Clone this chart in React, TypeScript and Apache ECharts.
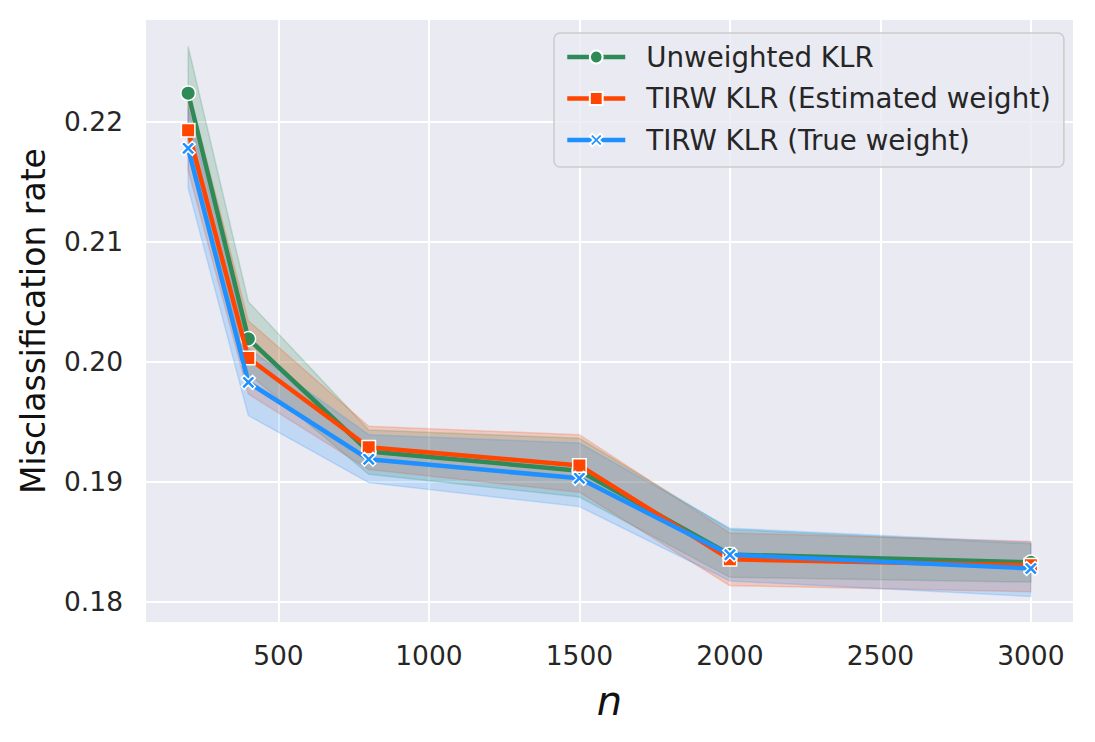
import React, { useEffect, useRef } from "react";
import * as echarts from "echarts";

const nValues = [200, 400, 800, 1500, 2000, 3000];

const seriesNames = [
  "Unweighted KLR",
  "TIRW KLR (Estimated weight)",
  "TIRW KLR (True weight)",
];

const unweightedMean = [0.2224, 0.2019, 0.1925, 0.1909, 0.1839, 0.18325];
const unweightedLow = [0.2186, 0.199, 0.1906, 0.1887, 0.182, 0.1816];
const unweightedHigh = [0.2263, 0.2050, 0.1943, 0.1936, 0.186, 0.1848];

const estimatedMean = [0.2193, 0.2003, 0.19285, 0.19134, 0.1835, 0.183];
const estimatedLow = [0.216, 0.1973, 0.191, 0.1891, 0.1813, 0.1808];
const estimatedHigh = [0.2228, 0.2034, 0.1946, 0.1939, 0.1857, 0.185];

const trueMean = [0.2178, 0.19827, 0.19185, 0.19026, 0.18389, 0.18274];
const trueLow = [0.2145, 0.1955, 0.1899, 0.1879, 0.1817, 0.1804];
const trueHigh = [0.2212, 0.2011, 0.1939, 0.1932, 0.1861, 0.1849];

const COLORS = ["#2e8b57", "#ff4500", "#1e90ff"];
const BAND_FILLS = [
  "rgba(46,139,87,0.2)",
  "rgba(255,69,0,0.2)",
  "rgba(30,144,255,0.2)",
];
const FONT = "DejaVu Sans";
const X_SYMBOL =
  "path://M2,0 L5,3 L8,0 L10,2 L7,5 L10,8 L8,10 L5,7 L2,10 L0,8 L3,5 L0,2 Z";

function bandSeries(name: string, lo: number[], hi: number[], fill: string, z: number) {
  return {
    type: "custom",
    name,
    z,
    silent: true,
    data: nValues.map((n, i) => [n, lo[i], hi[i]]),
    encode: { x: 0, y: [1, 2] },
    renderItem: (params: any, api: any) => {
      if (params.dataIndex !== 0) return null;
      const pts: number[][] = [];
      for (let i = 0; i < nValues.length; i++) pts.push(api.coord([nValues[i], hi[i]]));
      for (let i = nValues.length - 1; i >= 0; i--) pts.push(api.coord([nValues[i], lo[i]]));
      return {
        type: "polygon",
        shape: { points: pts },
        style: { fill, stroke: fill, lineWidth: 1.5 },
      };
    },
  };
}

function lineSeries(name: string, mean: number[], color: string, symbol: string, size: number, z: number) {
  return {
    type: "line",
    name,
    z,
    data: nValues.map((n, i) => [n, mean[i]]),
    symbol,
    symbolSize: size,
    showAllSymbol: true,
    lineStyle: { color, width: 4.5 },
    itemStyle: { color, borderColor: "#ffffff", borderWidth: 1.5 },
    emphasis: { disabled: true },
  };
}

export default function App() {
  const ref = useRef<HTMLDivElement>(null);

  useEffect(() => {
    if (!ref.current) return;
    const chart = echarts.init(ref.current, null, { renderer: "svg" });
    chart.setOption({
      animation: false,
      backgroundColor: "#ffffff",
      grid: {
        left: 146,
        right: 22,
        top: 20,
        bottom: 120,
        show: true,
        backgroundColor: "#eaeaf2",
        borderWidth: 0,
      },
      xAxis: {
        type: "value",
        min: 60,
        max: 3140,
        splitNumber: 6,
        name: "n",
        nameLocation: "middle",
        nameGap: 59,
        nameTextStyle: {
          fontFamily: FONT,
          fontStyle: "italic",
          fontSize: 40,
          color: "#111111",
        },
        axisLine: { show: false },
        axisTick: { show: false },
        axisLabel: {
          fontFamily: FONT,
          fontSize: 26.5,
          color: "#262626",
          margin: 20,
          showMinLabel: false,
          showMaxLabel: false,
          formatter: (v: number) => String(v),
        },
        splitLine: {
          show: true,
          showMinLine: false,
          showMaxLine: false,
          lineStyle: { color: "#ffffff", width: 2 },
        },
      },
      yAxis: {
        type: "value",
        min: 0.17827,
        max: 0.22851,
        splitNumber: 5,
        name: "Misclassification rate",
        nameLocation: "middle",
        nameGap: 96,
        nameTextStyle: {
          fontFamily: FONT,
          fontSize: 33,
          color: "#111111",
        },
        axisLine: { show: false },
        axisTick: { show: false },
        axisLabel: {
          fontFamily: FONT,
          fontSize: 26.5,
          color: "#262626",
          margin: 23,
          showMinLabel: false,
          showMaxLabel: false,
          formatter: (v: number) => v.toFixed(2),
        },
        splitLine: {
          show: true,
          showMinLine: false,
          showMaxLine: false,
          lineStyle: { color: "#ffffff", width: 2 },
        },
      },
      legend: {
        data: seriesNames,
        orient: "vertical",
        left: 554,
        top: 33,
        itemWidth: 58,
        itemHeight: 16,
        itemGap: 11.5,
        padding: [9, 13, 12, 11],
        backgroundColor: "rgba(234,234,242,0.8)",
        borderColor: "#cccccc",
        borderWidth: 1.5,
        borderRadius: 6,
        lineStyle: { width: 4.5 },
        textStyle: {
          fontFamily: FONT,
          fontSize: 27.7,
          color: "#262626",
          lineHeight: 30,
          padding: [0, 0, 0, 16],
        },
      },
      series: [
        bandSeries("band0", unweightedLow, unweightedHigh, BAND_FILLS[0], 1),
        bandSeries("band1", estimatedLow, estimatedHigh, BAND_FILLS[1], 1),
        bandSeries("band2", trueLow, trueHigh, BAND_FILLS[2], 1),
        lineSeries(seriesNames[0], unweightedMean, COLORS[0], "circle", 14.5, 2),
        lineSeries(seriesNames[1], estimatedMean, COLORS[1], "rect", 13.5, 3),
        lineSeries(seriesNames[2], trueMean, COLORS[2], X_SYMBOL, 14, 4),
      ],
    });
    return () => chart.dispose();
  }, []);

  return (
    <div
      ref={ref}
      style={{ position: "fixed", left: 0, top: 0, width: 1095, height: 742 }}
    />
  );
}
